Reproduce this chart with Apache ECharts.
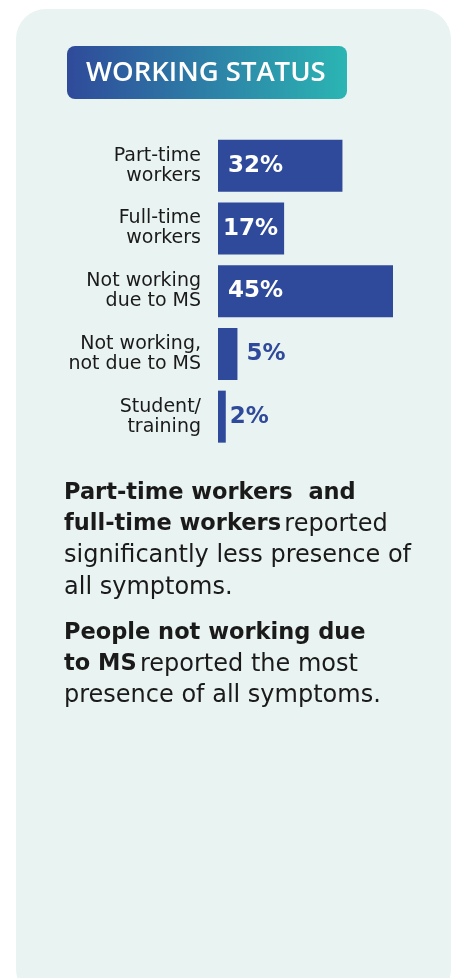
<!DOCTYPE html>
<html>
<head>
<meta charset="utf-8">
<script src="https://cdn.jsdelivr.net/npm/echarts@6/dist/echarts.min.js"></script>
<style>
  html, body { margin: 0; padding: 0; background: #fff; }
  #chart { width: 457px; height: 978px; }
</style>
</head>
<body>
<div id="chart"></div>
<script>
// working status shares (%)
var categories = ['Part-time\nworkers', 'Full-time\nworkers', 'Not working\ndue to MS', 'Not working,\nnot due to MS', 'Student/\ntraining'];
var shares = [32, 17, 45, 5, 2];

var chart = echarts.init(document.getElementById('chart'));
var FONT = '"DejaVu Sans", "Open Sans", sans-serif';
var TITLE_FONT = '"Open Sans", sans-serif';
var BLUE = '#2f4a9a';
var INK = '#1a1a1a';

var bodyRich = {
  b: { fontFamily: FONT, fontWeight: 'bold', fontSize: 22.5, lineHeight: 31.7, fill: INK },
  n: { fontFamily: FONT, fontSize: 24, lineHeight: 31.7, fill: INK }
};

chart.setOption({
  animation: false,
  grid: { left: 218, top: 134.5, width: 175, height: 313.5, containLabel: false },
  xAxis: {
    type: 'value', min: 0, max: 45, show: false
  },
  yAxis: {
    type: 'category',
    inverse: true,
    data: categories,
    axisLine: { show: false },
    axisTick: { show: false },
    axisLabel: {
      margin: 17,
      color: INK,
      fontFamily: FONT,
      fontSize: 19,
      lineHeight: 20,
      align: 'right'
    }
  },
  series: [{
    type: 'bar',
    barWidth: 52,
    data: shares.map(function (v) {
      var big = v >= 10;
      return {
        value: v,
        label: big
          ? { position: 'insideLeft', distance: v > 20 ? 10 : 5, color: '#fff' }
          : { position: 'right', distance: v > 3 ? 9 : 4, color: BLUE }
      };
    }),
    itemStyle: { color: BLUE },
    label: {
      show: true,
      formatter: '{c}%',
      fontFamily: FONT,
      fontWeight: 'bold',
      fontSize: 23
    }
  }],
  graphic: [
    {
      type: 'rect', z: -10,
      shape: { x: 16, y: 9, width: 435, height: 990, r: 30 },
      style: { fill: '#e9f3f1' }
    },
    {
      type: 'rect', z: -5,
      shape: { x: 67, y: 46, width: 280, height: 53, r: 8 },
      style: {
        fill: new echarts.graphic.LinearGradient(0, 0, 1, 0, [
          { offset: 0, color: '#2f4a9a' },
          { offset: 1, color: '#2bb5b3' }
        ])
      }
    },
    {
      type: 'text', z: 5,
      x: 86, y: 73,
      style: {
        text: 'WORKING STATUS',
        fill: '#fff',
        font: '600 27.5px ' + TITLE_FONT,
        verticalAlign: 'middle'
      }
    },
    {
      type: 'text', z: 5,
      x: 64, y: 477,
      style: {
        text: '{b|Part-time workers  and}\n{b|full-time workers} {n|reported}\n{n|significantly less presence of}\n{n|all symptoms.}',
        rich: bodyRich
      }
    },
    {
      type: 'text', z: 5,
      x: 64, y: 617,
      style: {
        text: '{b|People not working due}\n{b|to MS} {n|reported the most}\n{n|presence of all symptoms.}',
        rich: bodyRich
      }
    }
  ]
});
</script>
</body>
</html>
